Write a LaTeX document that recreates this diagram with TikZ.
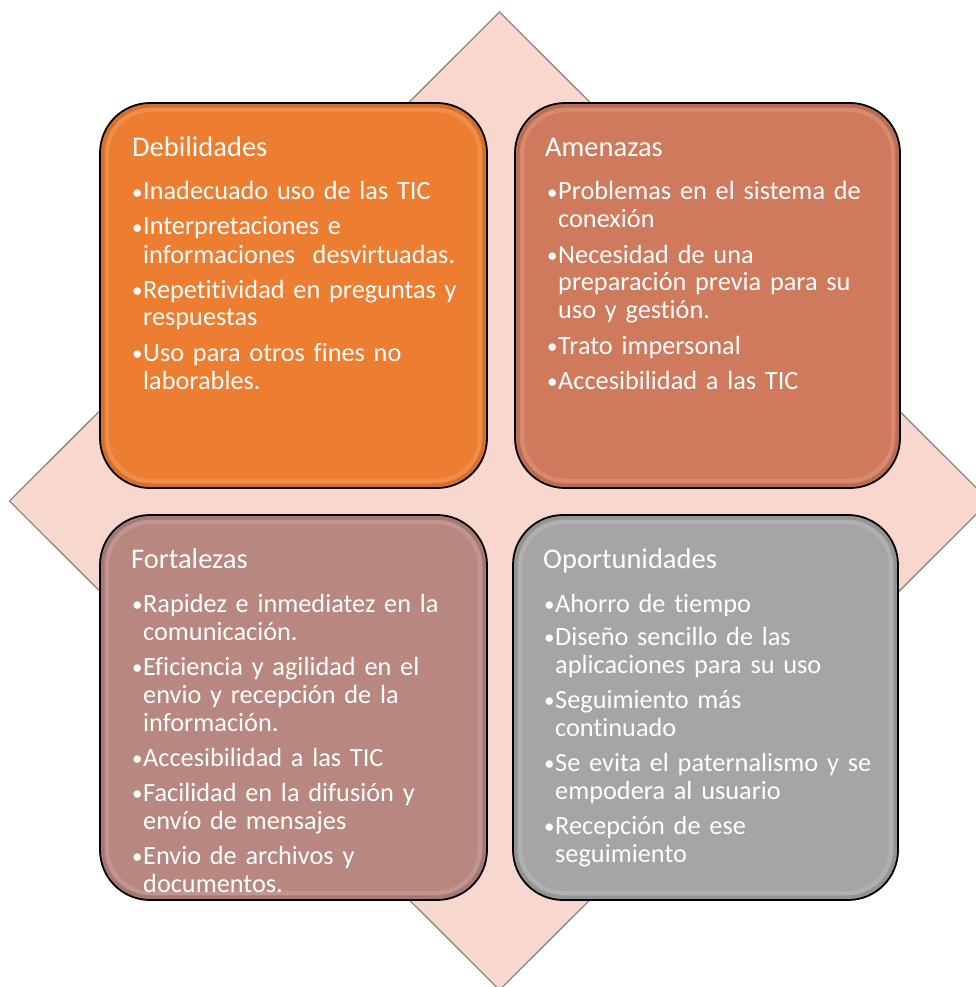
\documentclass[tikz,border=0pt]{standalone}
\usepackage{fontspec}
\setmainfont[Ligatures=NoCommon]{Carlito}
\newcommand\bul{\leavevmode\llap{\makebox[11pt][l]{\raisebox{0.5pt}{\fontsize{21}{21}\selectfont •}}}}
\newcommand\listfont{\fontsize{26.3}{28}\selectfont\spaceskip=0.21em plus 0.05em\relax}
\begin{document}
\begin{tikzpicture}[x=1pt,y=-1pt]
\definecolor{diafill}{RGB}{248,216,206}
\definecolor{diaedge}{RGB}{140,136,134}
\definecolor{cOrange}{RGB}{237,125,49}
\definecolor{cSienna}{RGB}{208,122,93}
\definecolor{cRose}{RGB}{184,135,128}
\definecolor{cGray}{RGB}{165,165,165}
\tikzset{
  card/.style={draw=black, line width=1.8pt, rounded corners=50pt},
  gloss/.style={draw=white, line width=4pt, draw opacity=0.13, rounded corners=44pt},
  shade/.style={draw=black, line width=4pt, draw opacity=0.10, rounded corners=48pt},
  ttl/.style={anchor=base west, inner sep=0pt, text=white, font=\fontsize{28.5}{34}\selectfont},
  lst/.style={anchor=base west, inner sep=0pt, text=white, text width=420pt, align=left, font=\listfont},
}
\useasboundingbox (0,0) rectangle (976,987);
\begin{scope}
\clip (0,0) rectangle (976,987);
\draw[fill=diafill, draw=diaedge, line width=1.3pt] (499.5,12) -- (989.5,501) -- (499.5,990) -- (9.5,501) -- cycle;
\end{scope}
% boxes
\draw[card, fill=cOrange] (100,103) rectangle (487,488);
\draw[shade] (102.5,105.5) rectangle (484.5,485.5);
\draw[gloss] (107,110) rectangle (480,481);
\draw[card, fill=cSienna] (515,103) rectangle (900,488);
\draw[shade] (517.5,105.5) rectangle (897.5,485.5);
\draw[gloss] (522,110) rectangle (893,481);
\draw[card, fill=cRose] (100,515) rectangle (487,900);
\draw[shade] (102.5,517.5) rectangle (484.5,897.5);
\draw[gloss] (107,522) rectangle (480,893);
\draw[card, fill=cGray] (513,515) rectangle (898,900);
\draw[shade] (515.5,517.5) rectangle (895.5,897.5);
\draw[gloss] (520,522) rectangle (891,893);
% titles
\node[ttl] (tD) at (132,157) {Debilidades};
\node[ttl] (tA) at (545,157) {Amenazas};
\node[ttl] (tF) at (131,568) {Fortalezas};
\node[ttl] (tO) at (543,568) {Oportunidades};
% lists
\node[lst] (lD) at (143,200) {\bul Inadecuado uso de las TIC\\[7pt]
\bul Interpretaciones e\\informaciones\ \ desvirtuadas.\\[7pt]
\bul Repetitividad en preguntas y\\respuestas\\[7pt]
\bul Uso para otros fines no\\laborables.};
\node[lst] (lA) at (558,200) {\bul Problemas en el sistema de\\conexión\\[7pt]
\bul Necesidad de una\\preparación previa para su\\uso y gestión.\\[7pt]
\bul Trato impersonal\\[7pt]
\bul Accesibilidad a las TIC};
\node[lst] (lF) at (143,612) {\bul Rapidez e inmediatez en la\\comunicación.\\[7pt]
\bul Eficiencia y agilidad en el\\envio y recepción de la\\información.\\[7pt]
\bul Accesibilidad a las TIC\\[7pt]
\bul Facilidad en la difusión y\\envío de mensajes\\[7pt]
\bul Envio de archivos y\\documentos.};
\node[lst] (lO) at (555,612) {\bul Ahorro de tiempo\\[5pt]
\bul Diseño sencillo de las\\aplicaciones para su uso\\[7pt]
\bul Seguimiento más\\continuado\\[7pt]
\bul Se evita el paternalismo y se\\empodera al usuario\\[7pt]
\bul Recepción de ese\\seguimiento};
\end{tikzpicture}
\end{document}
